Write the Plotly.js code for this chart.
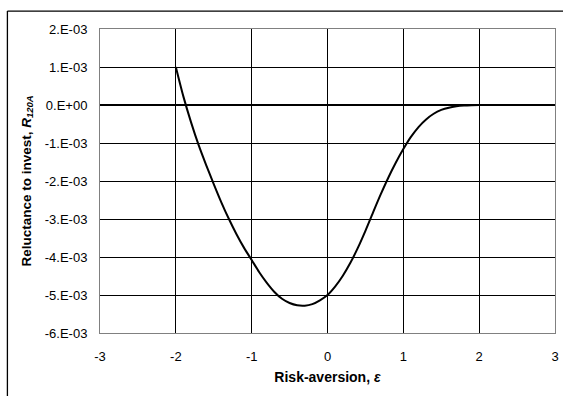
<!DOCTYPE html>
<html>
<head>
<meta charset="utf-8">
<script src="https://cdn.plot.ly/plotly-3.0.1.min.js"></script>
<style>html,body{margin:0;padding:0;background:#fff;}#chart{width:563px;height:396px;}</style>
</head>
<body>
<div id="chart"></div>
<script>
const epsilon = [-2.0,-1.9,-1.8,-1.7,-1.6,-1.5,-1.4,-1.3,-1.2,-1.1,-1.0,-0.9,-0.8,-0.7,-0.6,-0.5,-0.4,-0.3,-0.2,-0.1,0.0,0.1,0.2,0.3,0.4,0.5,0.6,0.7,0.8,0.9,1.0,1.1,1.2,1.3,1.4,1.5,1.6,1.7,1.8,1.9,2.0,2.5,3.0];
const reluctance = [1.00e-3,0.22e-3,-0.45e-3,-1.05e-3,-1.58e-3,-2.08e-3,-2.56e-3,-3.00e-3,-3.40e-3,-3.76e-3,-4.08e-3,-4.40e-3,-4.68e-3,-4.92e-3,-5.10e-3,-5.21e-3,-5.27e-3,-5.28e-3,-5.24e-3,-5.14e-3,-5.00e-3,-4.78e-3,-4.50e-3,-4.16e-3,-3.76e-3,-3.31e-3,-2.83e-3,-2.36e-3,-1.92e-3,-1.52e-3,-1.16e-3,-0.84e-3,-0.58e-3,-0.38e-3,-0.23e-3,-0.13e-3,-0.07e-3,-0.035e-3,-0.015e-3,-0.005e-3,0.0,0.0,0.0];
const xTicks = [-3,-2,-1,0,1,2,3];
const yTicks = [-6e-3,-5e-3,-4e-3,-3e-3,-2e-3,-1e-3,0,1e-3,2e-3];
const yTickLabels = ['-6.E-03','-5.E-03','-4.E-03','-3.E-03','-2.E-03','-1.E-03','0.E+00','1.E-03','2.E-03'];

const font = 'Liberation Sans, Arial, sans-serif';
const trace = {
  x: epsilon, y: reluctance, type: 'scatter', mode: 'lines',
  line: {color: '#000', width: 2, shape: 'spline', smoothing: 0.8},
  hoverinfo: 'skip', showlegend: false
};
const layout = {
  width: 563, height: 396,
  margin: {l: 100, r: 8, t: 29, b: 63},
  paper_bgcolor: '#fff', plot_bgcolor: '#fff',
  font: {family: font, size: 13, color: '#000'},
  xaxis: {
    range: [-3, 3], tickvals: xTicks, ticktext: xTicks.map(String),
    showgrid: true, gridcolor: '#000', gridwidth: 1,
    zeroline: true, zerolinecolor: '#000', zerolinewidth: 1.5,
    showline: true, linecolor: '#808080', linewidth: 1, mirror: true,
    ticks: 'outside', ticklen: 11, tickcolor: 'rgba(0,0,0,0)',
    tickfont: {family: font, size: 13},
    title: {text: '<b>Risk-aversion, <i>ε</i></b>', font: {family: font, size: 14}, standoff: 9}
  },
  yaxis: {
    range: [-6e-3, 2e-3], tickvals: yTicks, ticktext: yTickLabels,
    showgrid: true, gridcolor: '#000', gridwidth: 1,
    zeroline: true, zerolinecolor: '#000', zerolinewidth: 1.5,
    showline: true, linecolor: '#808080', linewidth: 1, mirror: true,
    ticks: 'outside', ticklen: 9, tickcolor: 'rgba(0,0,0,0)',
    tickfont: {family: font, size: 13},
    title: {text: '<b>Reluctance to invest, <i>R</i><sub><i>120A</i></sub></b>', font: {family: font, size: 13.5}, standoff: 10}
  },
  shapes: [
    {type: 'line', xref: 'paper', yref: 'paper', x0: -0.2035, x1: -0.2035, y0: 1.059, y1: -0.3, line: {color: '#000', width: 1.3}},
    {type: 'line', xref: 'paper', yref: 'paper', x0: -0.2035, x1: 1.05, y0: 1.059, y1: 1.059, line: {color: '#000', width: 1.3}}
  ]
};
Plotly.newPlot('chart', [trace], layout, {displayModeBar: false, staticPlot: true});
</script>
</body>
</html>
